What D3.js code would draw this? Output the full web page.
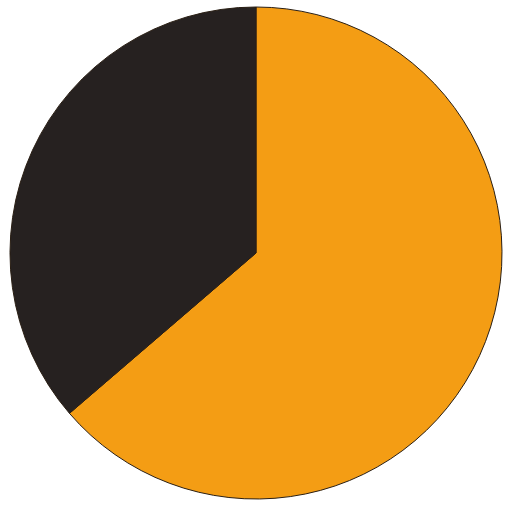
<!DOCTYPE html>
<html>
<head>
<meta charset="utf-8">
<script src="https://cdn.jsdelivr.net/npm/d3@7"></script>
<style>
  html, body { margin: 0; padding: 0; background: #fff; }
  svg { display: block; }
</style>
</head>
<body>
<div id="chart"></div>
<script>
// slice values (percent)
var categories = ['A', 'B'];
var values = [63.7, 36.3];
var colors = ['#f49d14', '#262120'];

var w = 513, h = 505;
var cx = 256, cy = 253, r = 246;

var svg = d3.select('#chart')
	.append('svg')
	.attr('width', w)
	.attr('height', h);

var pie = d3.pie().sort(null).value(function (d) { return d; });
var arc = d3.arc().innerRadius(0).outerRadius(r);

var color = d3.scaleOrdinal().domain(categories).range(colors);

var g = svg.append('g')
	.attr('transform', 'translate(' + cx + ',' + cy + ')');

g.selectAll('path')
	.data(pie(values))
	.enter()
		.append('path')
		.attr('d', arc)
		.attr('fill', function (d, i) { return color(categories[i]); })
		.attr('stroke', '#2a1f14')
		.attr('stroke-width', 1);
</script>
</body>
</html>
